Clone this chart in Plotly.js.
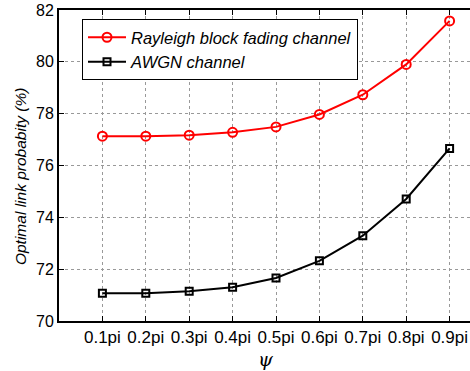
<!DOCTYPE html>
<html><head><meta charset="utf-8">
<script src="https://cdn.plot.ly/plotly-3.0.1.min.js"></script>
<style>html,body{margin:0;padding:0;overflow:hidden;background:#fff;}</style>
</head><body><div id="chart" style="width:500px;height:371px;"></div>
<script>
const psi = [0.1,0.2,0.3,0.4,0.5,0.6,0.7,0.8,0.9];
const psiLabels = ["0.1pi","0.2pi","0.3pi","0.4pi","0.5pi","0.6pi","0.7pi","0.8pi","0.9pi"];
const rayleigh = [77.13,77.13,77.17,77.28,77.49,77.97,78.73,79.90,81.58];
const awgn = [71.07,71.07,71.15,71.30,71.66,72.32,73.29,74.71,76.66];
const yTicks = [70,72,74,76,78,80,82];
const xTitle = "ψ";
const yTitle = "Optimal link probabity (%)";

const traces = [
 {x: psi, y: rayleigh, name: "Rayleigh block fading channel", mode: "lines+markers",
  line: {color: "#ff0000", width: 2}, marker: {symbol: "circle-open", size: 9, color: "#ff0000", line: {width: 2, color: "#ff0000"}}},
 {x: psi, y: awgn, name: "AWGN channel", mode: "lines+markers",
  line: {color: "#000000", width: 2}, marker: {symbol: "square-open", size: 7, color: "#000000", line: {width: 2, color: "#000000"}}}
];
const ff = "Arial, Liberation Sans, sans-serif";
const font = {family: ff, size: 16, color: "#000"};
const layout = {
 width: 500, height: 371,
 margin: {l: 59, r: 7, t: 10, b: 50},
 paper_bgcolor: "#fff", plot_bgcolor: "#fff",
 font: font,
 showlegend: true,
 legend: {x: 0.053, y: 0.971, xanchor: "left", yanchor: "top", bgcolor: "#fff", bordercolor: "#000", borderwidth: 1,
   itemwidth: 38,
   font: {family: ff, size: 16.5, style: "italic", color: "#000"}, tracegroupgap: 0},
 xaxis: {range: [0, 1], tickvals: psi, ticktext: psiLabels, ticks: "inside", ticklen: 5, tickwidth: 1, tickcolor: "#000",
   showline: true, linecolor: "#000", linewidth: 2, mirror: "ticks", zeroline: false,
   showgrid: true, gridcolor: "#999", griddash: "dot", gridwidth: 1,
   tickfont: {family: ff, size: 17, color: "#000"}, automargin: false},
 yaxis: {range: [70, 82], tickvals: yTicks, ticks: "inside", ticklen: 5, tickwidth: 1, tickcolor: "#000",
   showline: true, linecolor: "#000", linewidth: 2, mirror: "ticks", zeroline: false,
   showgrid: true, gridcolor: "#999", griddash: "dot", gridwidth: 1,
   tickfont: {family: ff, size: 16, color: "#000"}, automargin: false},
 annotations: [
  {text: yTitle, xref: "paper", yref: "paper", x: -0.0899, y: 0.466, xanchor: "center", yanchor: "middle",
   textangle: -90, showarrow: false, font: {family: ff, size: 15.5, style: "italic", color: "#000000"}},
  {text: xTitle, xref: "paper", yref: "paper", x: 0.477, y: -0.121, xanchor: "center", yanchor: "middle",
   showarrow: false, font: {family: "DejaVu Serif, serif", size: 19, style: "italic", color: "#000000"}}
 ]
};
Plotly.newPlot("chart", traces, layout, {displayModeBar: false, staticPlot: true});
</script></body></html>
